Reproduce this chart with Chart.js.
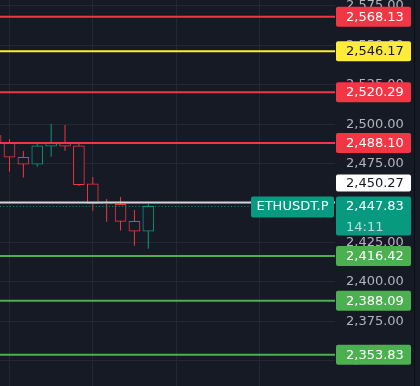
<!doctype html>
<html lang="en">
<head>
<meta charset="utf-8">
<title>ETHUSDT.P</title>
<script src="https://cdn.jsdelivr.net/npm/chart.js"></script>
<style>
  html, body { margin: 0; padding: 0; background: #161a25; }
  canvas { display: block; }
</style>
</head>
<body>
<canvas id="chart" width="420" height="386"></canvas>
<script>
// candles, left to right (the first one is cut off by the left edge)
const candleNo = [-1, 0, 1, 2, 3, 4, 5, 6, 7, 8, 9, 10];
const openPx  = [2492.7, 2488.2, 2479.0, 2474.6, 2486.0, 2488.5, 2486.2, 2462.1, 2449.8, 2449.2, 2438.4, 2432.1];
const highPx  = [2494.5, 2490.4, 2483.0, 2488.2, 2500.1, 2499.5, 2487.9, 2466.5, 2452.6, 2453.8, 2445.6, 2449.4];
const lowPx   = [2486.5, 2469.9, 2466.1, 2473.0, 2479.4, 2483.2, 2460.8, 2445.1, 2438.2, 2432.5, 2422.9, 2421.0];
const closePx = [2488.2, 2479.0, 2474.6, 2486.2, 2488.5, 2486.0, 2461.6, 2449.8, 2449.4, 2438.4, 2432.1, 2447.83];

// horizontal levels drawn across the chart
const levels    = [2568.13, 2546.17, 2520.29, 2488.10, 2416.42, 2388.09, 2353.83];
const levelKind = ['res', 'mid', 'res', 'res', 'sup', 'sup', 'sup'];
const prevClose = 2450.27;
const lastPrice = 2447.83;
const symbol = 'ETHUSDT.P';
const countdown = '14:11';

const BG = '#161a25';
const GRID = '#242834';
const RED = '#f23645';
const TEAL = '#089981';
const levelColor = { res: '#f23645', mid: '#ffeb3b', sup: '#4caf50' };
const X_MIN = -0.684, X_MAX = 23.45;

Chart.defaults.font.family = '"DejaVu Sans", sans-serif';
Chart.defaults.font.size = 13;

const fmt = v => v.toLocaleString('en-US', { minimumFractionDigits: 2, maximumFractionDigits: 2 });
const candleColor = closePx.map((c, i) => c >= openPx[i] ? TEAL : RED);

function flatLine(value, color, width, dash) {
  return {
    type: 'line',
    data: [{ x: X_MIN, y: value }, { x: X_MAX, y: value }],
    borderColor: color,
    borderWidth: width,
    borderDash: dash || [],
    pointRadius: 0,
    clip: 0,
    order: 1
  };
}

const datasets = levels.map((v, i) => flatLine(v, levelColor[levelKind[i]], 2));
datasets.push(flatLine(prevClose, '#d1d4dc', 2));
datasets.push(flatLine(lastPrice, TEAL, 1, [1, 2.3]));
// bodies (hollow) on top of the wicks
datasets.push({
  type: 'bar',
  data: candleNo.map((x, i) => ({ x: x, y: [openPx[i], closePx[i]] })),
  backgroundColor: BG,
  borderColor: candleColor,
  borderWidth: 1,
  borderSkipped: false,
  barThickness: 11,
  grouped: false,
  clip: 0,
  order: 2
});
datasets.push({
  type: 'bar',
  data: candleNo.map((x, i) => ({ x: x, y: [lowPx[i], highPx[i]] })),
  backgroundColor: candleColor,
  borderWidth: 0,
  inflateAmount: 0,
  barThickness: 1,
  grouped: false,
  clip: 0,
  order: 3
});

// price tags on the right axis
const priceTags = {
  id: 'priceTags',
  afterDraw(chart) {
    const { ctx, chartArea, scales } = chart;
    const y = scales.y;
    const bx = chartArea.right + 1, bw = 75, tx = chartArea.right + 11;

    function box(x, top, w, h, fill) {
      ctx.fillStyle = fill;
      ctx.beginPath();
      ctx.roundRect(x, top, w, h, 2);
      ctx.fill();
    }

    ctx.save();
    ctx.font = '13px "DejaVu Sans"';
    ctx.textBaseline = 'middle';
    ctx.textAlign = 'left';

    levels.forEach((v, i) => {
      const py = y.getPixelForValue(v);
      const col = levelColor[levelKind[i]];
      box(bx, py - 10, bw, 20, col);
      ctx.fillStyle = levelKind[i] === 'mid' ? '#131722' : '#ffffff';
      ctx.fillText(fmt(v), tx, py + 0.5);
    });

    // last price + countdown
    const ly = y.getPixelForValue(lastPrice);
    box(bx, ly - 10, bw, 39, TEAL);
    ctx.fillStyle = '#ffffff';
    ctx.fillText(fmt(lastPrice), tx, ly + 0.5);
    ctx.fillStyle = 'rgba(255,255,255,0.7)';
    ctx.fillText(countdown, tx, ly + 21.5);

    // symbol tag left of the axis
    box(chartArea.right - 84, ly - 10, 83, 21, TEAL);
    ctx.fillStyle = '#ffffff';
    ctx.textAlign = 'center';
    ctx.fillText(symbol, chartArea.right - 42.5, ly + 0.5);

    // previous close tag, pushed up above the last price tag
    const pTop = ly - 10 - 5 - 17;
    box(bx, pTop, bw, 17, '#ffffff');
    ctx.fillStyle = '#131722';
    ctx.textAlign = 'left';
    ctx.fillText(fmt(prevClose), tx, pTop + 9);

    // panel edge
    ctx.fillStyle = '#0c0e14';
    ctx.fillRect(414, 0, 1, chart.height);
    ctx.restore();
  }
};

new Chart(document.getElementById('chart'), {
  type: 'bar',
  data: { datasets: datasets },
  plugins: [priceTags],
  options: {
    responsive: false,
    animation: false,
    events: [],
    layout: { padding: 0 },
    plugins: { legend: { display: false }, tooltip: { enabled: false } },
    scales: {
      x: {
        type: 'linear',
        min: X_MIN,
        max: X_MAX,
        offset: false,
        grid: { color: GRID, offset: false, drawTicks: false },
        border: { display: false },
        ticks: { display: false, stepSize: 6, includeBounds: false },
        afterFit(scale) { scale.height = 0; scale.paddingLeft = 0; scale.paddingRight = 0; }
      },
      y: {
        position: 'right',
        min: 2333.98,
        max: 2578.72,
        grid: { color: GRID, drawTicks: false },
        border: { display: false },
        ticks: {
          stepSize: 25,
          includeBounds: false,
          padding: 11,
          color: '#b2b5be',
          font: { size: 13 },
          callback: v => fmt(v)
        },
        afterFit(scale) { scale.width = 85; scale.paddingTop = 0; scale.paddingBottom = 0; }
      }
    }
  }
});
</script>
</body>
</html>
